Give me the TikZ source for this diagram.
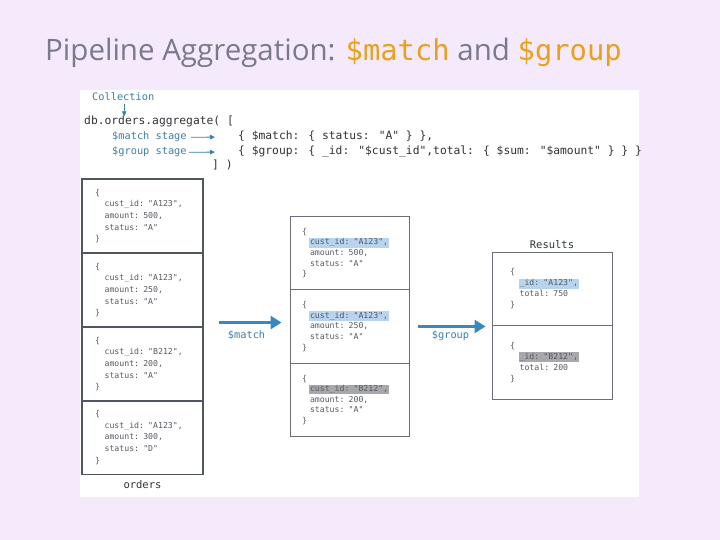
\documentclass[tikz,border=0pt]{standalone}
\usepackage{fontspec}
\setmainfont{Open Sans}
\newfontfamily\mono{DejaVu Sans Mono}
\usetikzlibrary{arrows.meta}
\definecolor{bgc}{HTML}{F5EAFC}
\definecolor{titlec}{HTML}{7A7A8C}
\definecolor{orng}{HTML}{E9A11B}
\definecolor{codec}{HTML}{2F3338}
\definecolor{lblc}{HTML}{3D7EAA}
\definecolor{boxc}{HTML}{4F5563}
\definecolor{docc}{HTML}{555B63}
\definecolor{hlblue}{HTML}{B7D3EE}
\definecolor{hlgray}{HTML}{A8A8AC}
\definecolor{arrc}{HTML}{3788C3}
\newcommand\ind{\hspace*{9.6pt}}
\newcommand\hlb[1]{{\setlength{\fboxsep}{0.8pt}\hspace*{-0.8pt}\colorbox{hlblue}{#1}}}
\newcommand\hlg[1]{{\setlength{\fboxsep}{0.8pt}\hspace*{-0.8pt}\colorbox{hlgray}{#1}}}
\begin{document}
\begin{tikzpicture}[x=1pt,y=-1pt,
  codetxt/.style={inner sep=0pt, anchor=base west, font=\mono\fontsize{11.3}{13}\selectfont, text=codec, text height=8.5pt, text depth=2.5pt},
  lbl/.style={inner sep=0pt, anchor=base west, font=\mono\fontsize{10.3}{12}\selectfont, text=lblc, text height=8pt, text depth=2.5pt},
  doc/.style={draw=boxc, line width=1.1pt, minimum width=121pt, minimum height=74pt, text width=95pt, inner xsep=13pt, inner ysep=0pt, align=left, font=\mono\fontsize{8.2}{11.7}\selectfont, text=docc},
  mdoc/.style={draw=boxc!85, line width=0.9pt, minimum width=119pt, minimum height=73.3pt, text width=95pt, inner xsep=12pt, inner ysep=0pt, align=left, font=\mono\fontsize{8.2}{10.6}\selectfont, text=docc},
  rdoc/.style={draw=boxc!85, line width=0.9pt, minimum width=120pt, minimum height=73.5pt, text width=84pt, inner xsep=18pt, inner ysep=0pt, align=left, font=\mono\fontsize{8.2}{11}\selectfont, text=docc},
  smallarrow/.style={draw=lblc, line width=0.8pt, -{Triangle[length=5pt,width=4.5pt]}},
  bigarrow/.style={draw=arrc, line width=3.5pt, -{Triangle[length=11pt,width=13pt]}},
  caption/.style={inner sep=0pt, font=\mono\fontsize{10.5}{12}\selectfont, text=codec}
]
\useasboundingbox (0,0) rectangle (720,540);
\fill[bgc] (0,0) rectangle (720,540);
\node[anchor=base west, inner sep=0pt, text=titlec, font=\fontsize{29.5}{32}\selectfont] (title) at (45,61)
  {Pipeline Aggregation: {\mono\fontsize{28.8}{32}\selectfont\color{orng}\$match} and {\mono\fontsize{28.8}{32}\selectfont\color{orng}\$group}};
\node[fill=white, inner sep=0pt, minimum width=559pt, minimum height=407pt, anchor=north west] (panel) at (80,90) {};

% code
\node[lbl] (collect) at (92,101) {Collection};
\node[codetxt] (dbline) at (84,125) {db.orders.aggregate( [};
\node[lbl] (matchlbl) at (112,140) {\$match stage};
\node[lbl] (grouplbl) at (112,155) {\$group stage};
\node[codetxt] (matchcode) at (238,140) {\{ \$match: \{ status: "A" \} \},};
\node[codetxt] (groupcode) at (238,155) {\{ \$group: \{ \_id: "\$cust\_id",total: \{ \$sum: "\$amount" \} \} \}};
\node[codetxt] (closeline) at (212,169) {] )};
\draw[smallarrow] ([xshift=1pt]collect.south) -- ([xshift=1pt]collect.south |- dbline.north);
\draw[smallarrow, shorten <=4pt, shorten >=23pt] (matchlbl.east) -- (matchcode.west);
\draw[smallarrow, shorten <=2pt, shorten >=23pt] (grouplbl.east) -- (groupcode.west);

% orders collection
\node[doc] (o1) at (142.5,216) {\{\\ \ind cust\_id: "A123",\\ \ind amount: 500,\\ \ind status: "A"\\ \}};
\node[doc] (o2) at (142.5,290) {\{\\ \ind cust\_id: "A123",\\ \ind amount: 250,\\ \ind status: "A"\\ \}};
\node[doc] (o3) at (142.5,364) {\{\\ \ind cust\_id: "B212",\\ \ind amount: 200,\\ \ind status: "A"\\ \}};
\node[doc] (o4) at (142.5,437.5) {\{\\ \ind cust\_id: "A123",\\ \ind amount: 300,\\ \ind status: "D"\\ \}};
\node[caption, anchor=north, yshift=-5pt] (orderslbl) at (o4.south) {orders};

% matched
\node[mdoc] (m1) at (349.5,253) {\{\\ \hspace*{8pt}\hlb{cust\_id: "A123",}\\ \hspace*{8pt}amount: 500,\\ \hspace*{8pt}status: "A"\\ \}};
\node[mdoc] (m2) at (349.5,326.5) {\{\\ \hspace*{8pt}\hlb{cust\_id: "A123",}\\ \hspace*{8pt}amount: 250,\\ \hspace*{8pt}status: "A"\\ \}};
\node[mdoc] (m3) at (349.5,399.8) {\{\\ \hspace*{8pt}\hlg{cust\_id: "B212",}\\ \hspace*{8pt}amount: 200,\\ \hspace*{8pt}status: "A"\\ \}};

% results
\node[rdoc] (r1) at (552,289) {\{\\ \ind\hlb{\_id: "A123",}\\ \ind total: 750\\ \}};
\node[rdoc] (r2) at (552,362.5) {\{\\ \ind\hlg{\_id: "B212",}\\ \ind total: 200\\ \}};
\node[caption, anchor=south, yshift=3pt] (reslbl) at (r1.north) {Results};

% stage arrows
\path ([yshift=5pt]o2.south east) coordinate (ma);
\draw[bigarrow, shorten <=15pt, shorten >=8pt] (ma) -- (ma -| m2.west)
  node[midway, below=6pt, lbl, anchor=north] (matchop) {\$match};
\draw[bigarrow, shorten <=9pt, shorten >=6pt] (m2.east) -- (m2.east -| r1.west)
  node[midway, below=2pt, lbl, anchor=north] (groupop) {\$group};
\end{tikzpicture}
\end{document}
